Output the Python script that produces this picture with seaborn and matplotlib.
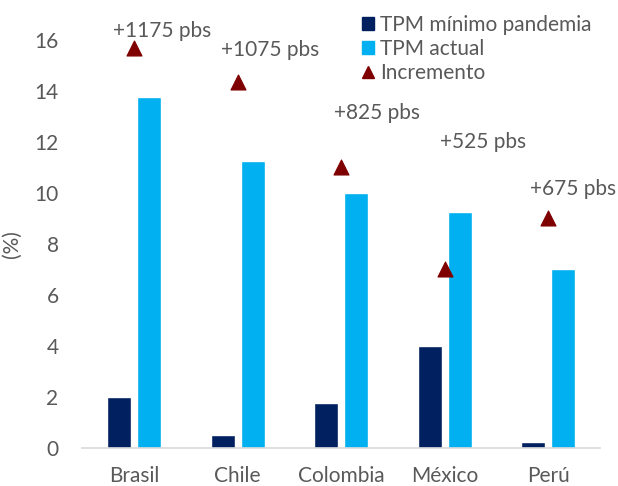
import numpy as np
import pandas as pd
import matplotlib
matplotlib.use("Agg")
import matplotlib.pyplot as plt
import seaborn as sns
from matplotlib.patches import Patch
from matplotlib.lines import Line2D

countries = ["Brasil", "Chile", "Colombia", "México", "Perú"]
tpm_min = [2.0, 0.5, 1.75, 4.0, 0.25]
tpm_actual = [13.75, 11.25, 10.0, 9.25, 7.0]
incremento = [11.75, 10.75, 8.25, 5.25, 6.75]
inc_labels = ["+1175 pbs", "+1075 pbs", "+825 pbs", "+525 pbs", "+675 pbs"]
label_offsets = [(28, 17), (33, 32), (36, 54), (38, 127), (25, 29)]  # pixels

series_names = ["TPM mínimo pandemia", "TPM actual", "Incremento"]
c_min, c_act, c_inc = "#002060", "#00B0F0", "#7F0000"
text_color = "#595959"
fs = 15

sns.set_theme(style="white")
plt.rcParams["font.family"] = ["Lato", "DejaVu Sans"]

df = pd.DataFrame({
    "País": countries * 2,
    "valor": tpm_min + tpm_actual,
    "serie": [series_names[0]] * len(countries) + [series_names[1]] * len(countries),
})

fig = plt.figure(figsize=(6.18, 4.86), dpi=100)
ax = fig.add_axes([0.133, 0.078, 0.838, 0.84])
sns.barplot(data=df, x="País", y="valor", hue="serie", palette=[c_min, c_act],
            width=0.58, gap=0.2, ax=ax, legend=False, saturation=1)
ax.set_xlim(-0.5, len(countries) - 0.5)
ax.set_ylim(0, 16)
ax.set_yticks(np.arange(0, 17, 2))
ax.set_xlabel("")
ax.set_ylabel("(%)", color=text_color, fontsize=fs)
ax.yaxis.set_label_coords(-0.116, 0.5)
for s in ["top", "right", "left"]:
    ax.spines[s].set_visible(False)
ax.spines["bottom"].set_color("#D9D9D9")
ax.spines["bottom"].set_linewidth(1.2)
ax.tick_params(axis="both", length=0, colors=text_color, labelsize=fs)
ax.tick_params(axis="x", pad=13)
ax.tick_params(axis="y", pad=17)

ax2 = ax.twinx()
xpos = np.arange(len(countries))
sns.scatterplot(x=xpos, y=incremento, marker="^", color=c_inc, s=115,
                edgecolor=c_inc, ax=ax2, legend=False, zorder=5)
ax2.set_ylim(0, 12)
ax2.set_xlim(-0.5, len(countries) - 0.5)
ax2.axis("off")
for xi, yi, lab, off in zip(xpos, incremento, inc_labels, label_offsets):
    ax2.annotate(lab, (xi, yi), xytext=off, textcoords="offset pixels",
                 ha="center", va="center", fontsize=fs, color=text_color)

handles = [Patch(color=c_min), Patch(color=c_act),
           Line2D([], [], marker="^", color=c_inc, linestyle="none", markersize=9)]
fig.legend(handles, series_names, loc="upper left", bbox_to_anchor=(0.555, 1.008),
           frameon=False, fontsize=fs, labelcolor=text_color, handlelength=0.6,
           handleheight=0.6, handletextpad=0.3, labelspacing=0.2)

fig.savefig("out.png", dpi=100)
